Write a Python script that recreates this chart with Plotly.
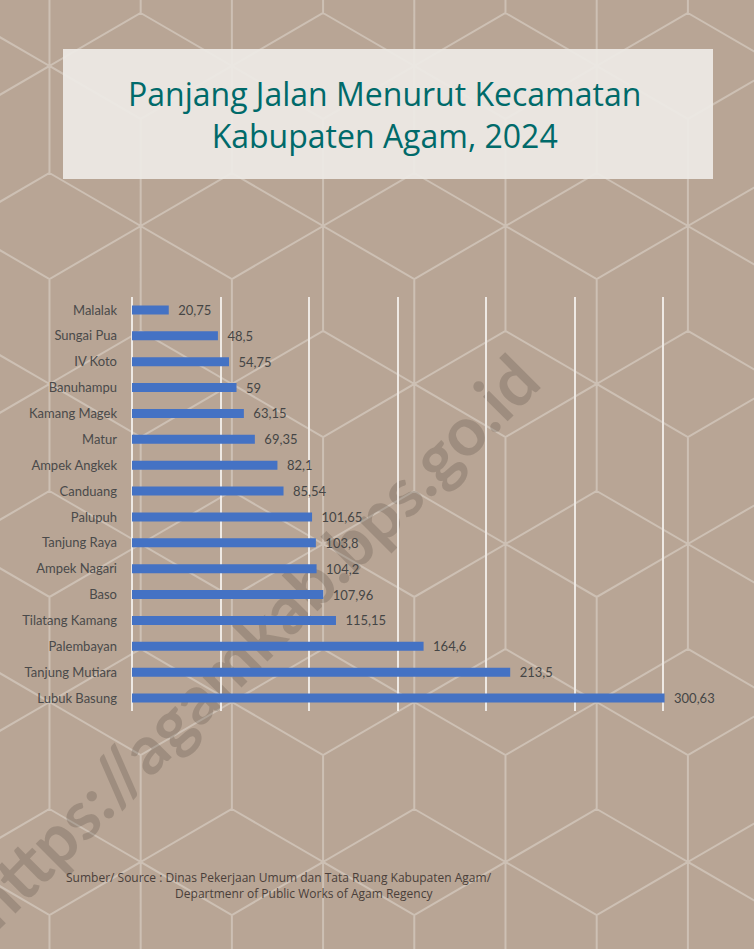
import plotly.graph_objects as go

# ---------------- data ----------------
categories = ["Malalak", "Sungai Pua", "IV Koto", "Banuhampu", "Kamang Magek", "Matur",
              "Ampek Angkek", "Canduang", "Palupuh", "Tanjung Raya", "Ampek Nagari", "Baso",
              "Tilatang Kamang", "Palembayan", "Tanjung Mutiara", "Lubuk Basung"]
values = [20.75, 48.5, 54.75, 59, 63.15, 69.35, 82.1, 85.54, 101.65, 103.8, 104.2,
          107.96, 115.15, 164.6, 213.5, 300.63]
value_labels = [f"{v:g}".replace(".", ",") for v in values]
x_ticks = [0, 50, 100, 150, 200, 250, 300, 350]

title_line1 = "Panjang Jalan Menurut Kecamatan"
title_line2 = "Kabupaten Agam, 2024"
source_line1 = "Sumber/ Source : Dinas Pekerjaan Umum dan Tata Ruang Kabupaten Agam/"
source_line2 = "Departmenr of Public Works of Agam Regency"
watermark = "https://agamkab.bps.go.id"

# ---------------- layout geometry ----------------
W, H = 754, 949
L, R, T, B = 132, 2, 297, 238
PW, PH = W - L - R, H - T - B
BG = "rgb(184,165,149)"
LINE = "rgb(205,192,180)"


def px(xp):
    return (xp - L) / PW


def py(yp):
    return (H - B - yp) / PH


# background decorative pattern (diamonds + vertical strokes)
dx, s = 91.2, 106.0
period = 3 * s
parts = []
for c in range(-2, 11):
    xc = 49.5 + dx * c
    phi = 173.0 if c % 2 == 0 else 331.0
    for k in range(-3, 5):
        top = phi + period * k
        pts = [(xc, top), (xc + dx, top + s / 2), (xc, top + s), (xc - dx, top + s / 2)]
        parts.append("M" + " L".join(f"{px(a):.4f},{py(b):.4f}" for a, b in pts) + " Z")
        parts.append(f"M{px(xc):.4f},{py(top + s):.4f} L{px(xc):.4f},{py(top + period):.4f}")
pattern_path = " ".join(parts)

fig = go.Figure()
fig.add_trace(go.Bar(
    y=categories, x=values, orientation="h",
    marker=dict(color="#4472C4", line=dict(width=0)),
    text=["\u2002" + t for t in value_labels], textposition="outside",
    constraintext="none",
    textfont=dict(family="Lato", size=13, color="#454545"),
    cliponaxis=False, hoverinfo="skip",
))

wm_cx, wm_cy = 251, 639
shapes = [
    dict(type="path", xref="paper", yref="paper", path=pattern_path,
         line=dict(color=LINE, width=2), layer="below"),
    dict(type="rect", xref="paper", yref="paper",
         x0=px(63), x1=px(713), y0=py(49), y1=py(179),
         fillcolor="rgba(238,234,230,0.92)", line=dict(width=0), layer="below"),
    dict(type="rect", xref="paper", yref="paper",
         x0=px(wm_cx) - 0.01, x1=px(wm_cx) + 0.01, y0=py(wm_cy) - 0.01, y1=py(wm_cy) + 0.01,
         fillcolor="rgba(0,0,0,0)", line=dict(width=0), layer="below",
         label=dict(text=watermark, textangle=-45, textposition="middle center",
                    font=dict(family="Lato", size=68, color="rgba(70,58,50,0.22)",
                              weight="bold"))),
]

indent = "\u00a0" * 35
annotations = [
    dict(text=title_line1 + "<br>" + title_line2, xref="paper", yref="paper",
         x=px(384), y=py(114), xanchor="center", yanchor="middle", showarrow=False,
         align="center", font=dict(family="Open Sans", size=32, color="#006a6a")),
    dict(text=source_line1 + "<br>" + indent + source_line2, xref="paper", yref="paper",
         x=px(64), y=py(885), xanchor="left", yanchor="middle", showarrow=False,
         align="left", font=dict(family="Open Sans", size=12, color="#4a3f3a")),
]

fig.update_layout(
    width=W, height=H, margin=dict(l=L, r=R, t=T, b=B, pad=0),
    paper_bgcolor=BG, plot_bgcolor="rgba(0,0,0,0)",
    bargap=0.65, showlegend=False,
    shapes=shapes, annotations=annotations,
    xaxis=dict(range=[0, 350], tickvals=x_ticks, showticklabels=False, showgrid=True,
               gridcolor="rgba(240,236,232,0.95)", gridwidth=1.5, zeroline=True,
               zerolinecolor="rgba(240,236,232,0.95)", zerolinewidth=1.5,
               showline=False, ticks="", fixedrange=True),
    yaxis=dict(autorange="reversed", showgrid=False, zeroline=False, showline=False,
               ticks="", ticklabelstandoff=14,
               tickfont=dict(family="Lato", size=13, color="#4a4a4a"), fixedrange=True),
)

fig.write_html("out.html", config={"displayModeBar": False},
               post_script="document.body.style.margin='0';")
